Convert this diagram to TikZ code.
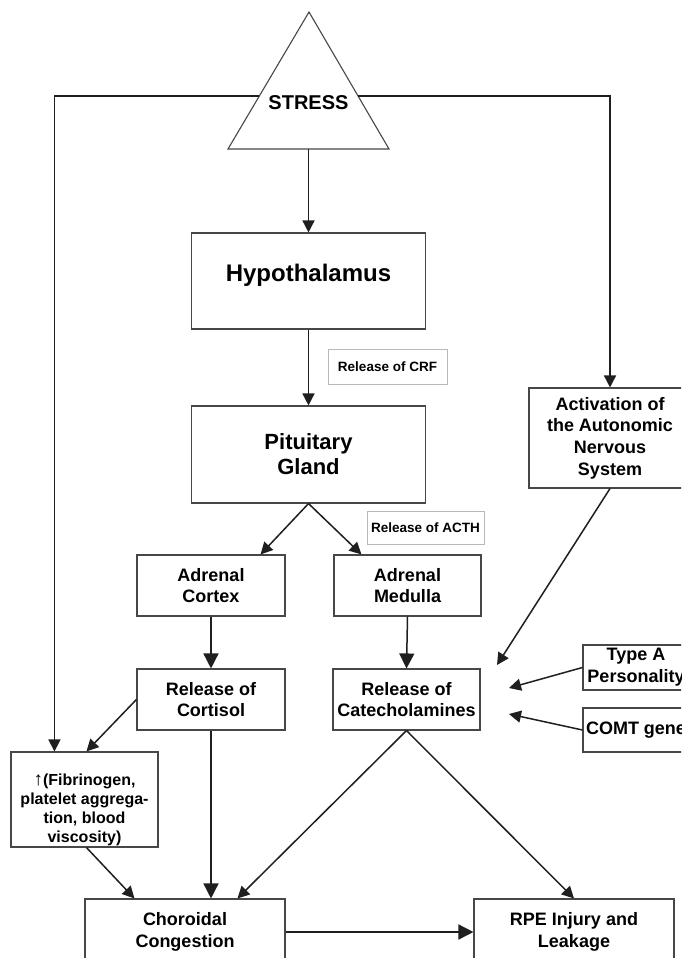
\documentclass[tikz,border=0pt]{standalone}
\usepackage{fontspec}
\setmainfont{Liberation Sans}
\usetikzlibrary{arrows.meta,calc}

\begin{document}
\begin{tikzpicture}[x=1pt,y=-1pt,
  box/.style={draw=black!72, line width=1.1pt, align=center, inner sep=0pt,
    font=\bfseries\fontsize{18}{21.7}\selectfont},
  tagbox/.style={draw=black!28, line width=0.9pt, inner sep=0pt,
    font=\bfseries\fontsize{13.5}{16}\selectfont},
  conn/.style={draw=black!88, line width=1.5pt},
  arr/.style={conn, -{Triangle[length=12pt,width=12pt]}},
  bigarr/.style={conn, -{Triangle[length=15pt,width=15pt]}}
]
\clip (0,0) rectangle (681,958);
\fill[white] (0,0) rectangle (681,958);

% stress source: triangle with its label
\coordinate (apex) at (309,12);
\coordinate (bl) at (228,149);
\coordinate (br) at (389,149);
\draw[draw=black!72, line width=1.1pt, line join=miter] (apex) -- (bl) -- (br) -- cycle;
\node[font=\bfseries\fontsize{20}{24}\selectfont, inner sep=0pt] (stress) at (308.5,103) {STRESS};
\coordinate (sbase) at ($(bl)!0.5!(br)$);
\coordinate (sl) at ($(apex)!0.613!(bl)$);
\coordinate (sr) at ($(apex)!0.613!(br)$);

% hormonal axis
\node[box, minimum width=234pt, minimum height=96pt, text depth=17pt,
      font=\bfseries\fontsize{24}{28}\selectfont] (hyp) at (308.5,281) {Hypothalamus};
\node[tagbox, minimum width=119pt, minimum height=35pt] (crf) at (387.5,366.5) {Release of CRF};
\node[box, minimum width=234pt, minimum height=97pt,
      font=\bfseries\fontsize{22}{25}\selectfont] (pit) at (308.5,454.5) {Pituitary\\Gland};
\node[tagbox, minimum width=117pt, minimum height=33pt] (acth) at (425.5,527.5) {Release of ACTH};

\node[box, minimum width=148pt, minimum height=61pt] (cortex) at (211,585.5) {Adrenal\\Cortex};
\node[box, minimum width=147pt, minimum height=61pt] (medulla) at (407.5,585.5) {Adrenal\\Medulla};
\node[box, minimum width=148pt, minimum height=61pt] (cortisol) at (211,699.5) {Release of\\Cortisol};
\node[box, minimum width=147pt, minimum height=61pt] (catechol) at (406.5,699.5) {Release of\\Catecholamines};

% autonomic branch and modifiers
\node[box, minimum width=162pt, minimum height=100pt] (act) at (610,438)
  {Activation of\\the Autonomic\\Nervous\\System};
\node[box, minimum width=106pt, minimum height=45pt] (typea) at (636,667.5) {Type A\\Personality};
\node[box, minimum width=106pt, minimum height=44pt] (comt) at (636,730) {COMT gene};

\node[box, minimum width=147pt, minimum height=95pt,
      font=\bfseries\fontsize{16}{19}\selectfont] (fib) at (84.5,799.5)
  {\rule{0pt}{32pt}{\fontsize{19}{19}\selectfont ↑}(Fibrinogen,\\platelet aggrega-\\tion, blood\\viscosity)};

% outcomes
\node[box, minimum width=200pt, minimum height=66pt] (chor) at (185,932) {Choroidal\\Congestion};
\node[box, minimum width=200pt, minimum height=66pt] (rpe) at (574,932) {RPE Injury and\\Leakage};

% free ends of the arrows converging on the catecholamine release
\coordinate (aneu) at (497,665);
\coordinate (typein) at (509,688);
\coordinate (comtin) at (509,714);

% connectors
\draw[arr] (sbase) -- (hyp.north);
\draw[arr] (hyp.south) -- (pit.north);
\draw[arr] (sl) -| ([xshift=44pt]fib.north west);
\draw[arr] (sr) -| (act.north);
\draw[arr] (pit.south) -- ([xshift=-25pt]cortex.north east);
\draw[arr] (pit.south) -- ([xshift=28pt]medulla.north west);
\draw[bigarr] (cortex.south) -- (cortisol.north);
\draw[bigarr] (medulla.south) -- (catechol.north);
\draw[arr] (act.south) -- (aneu);
\draw[arr] (typea.west) -- (typein);
\draw[arr] (comt.west) -- (comtin);
\draw[arr] (cortisol.west) -- ([xshift=76pt]fib.north west);
\draw[bigarr] (cortisol.south) -- (cortisol.south |- chor.north);
\draw[arr] ([xshift=76pt]fib.south west) -- ([xshift=50pt]chor.north west);
\draw[arr] (catechol.south) -- ([xshift=153pt]chor.north west);
\draw[arr] (catechol.south) -- (rpe.north);
\draw[bigarr] (chor.east) -- (rpe.west);
\end{tikzpicture}
\end{document}
